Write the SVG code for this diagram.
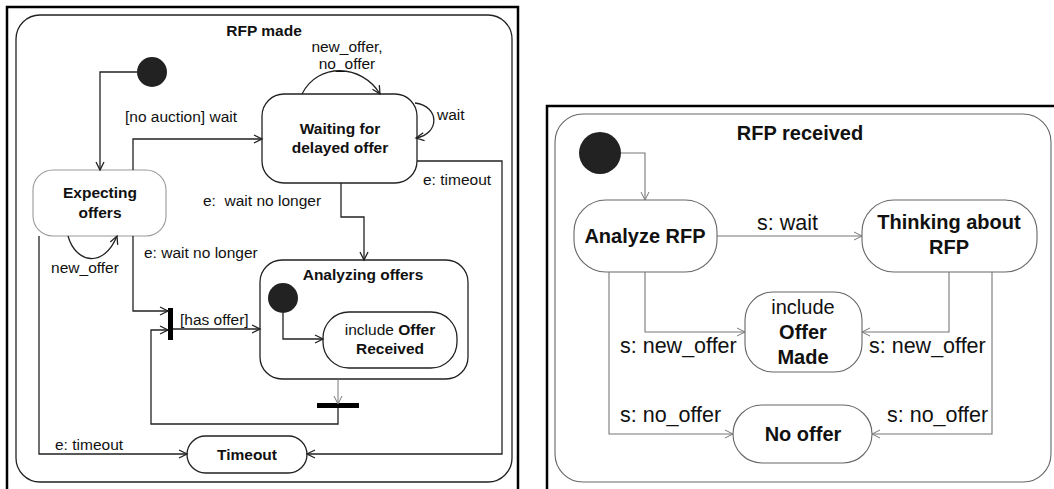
<svg xmlns="http://www.w3.org/2000/svg" width="1054" height="489" viewBox="0 0 1054 489">
<style>
text{font-family:"Liberation Sans",Arial,sans-serif;fill:#111}
.lbl{font-size:15.5px}
.nb{font-size:15.5px;font-weight:bold}
.rl{font-size:21.5px}
.ri{font-size:20px}
.rb{font-size:20px;font-weight:bold}
.ln{fill:none;stroke:#222;stroke-width:1.3}
.lg{fill:none;stroke:#777;stroke-width:1}
.rln{fill:none;stroke:#777;stroke-width:1.1}
.st{fill:#fff;stroke:#222;stroke-width:1.3}
.rst{fill:#fff;stroke:#666;stroke-width:1.1}
.frame{fill:none;stroke:#000;stroke-width:2.5}
</style>
<defs>
<marker id="a" markerUnits="userSpaceOnUse" markerWidth="12" markerHeight="12" refX="9" refY="5" orient="auto"><path d="M1,1 L9,5 L1,9" fill="none" stroke="#222" stroke-width="1.3"/></marker>
<marker id="ag" markerUnits="userSpaceOnUse" markerWidth="12" markerHeight="12" refX="9" refY="5" orient="auto"><path d="M1,1 L9,5 L1,9" fill="none" stroke="#777" stroke-width="1"/></marker>
</defs>
<rect width="1054" height="489" fill="#fff"/>
<!-- left frame -->
<path class="frame" d="M7,492 V7 H518 V492"/>
<g id="rfp-made">
<rect class="st" x="16" y="15" width="496" height="467" rx="24"/>
<text class="nb" x="264" y="36" text-anchor="middle">RFP made</text>
</g>
<!-- right frame -->
<path class="frame" d="M547,492 V106 H1060"/>
<g id="rfp-received">
<rect class="rst" x="555" y="114" width="496" height="368" rx="28"/>
<text class="rb" x="800" y="140" text-anchor="middle">RFP received</text>
</g>
<!-- left nodes -->
<g id="init1"><circle cx="152" cy="72" r="15" fill="#222"/></g>
<g id="expecting"><rect x="33" y="170" width="133" height="66" rx="20" fill="#fff" stroke="#999" stroke-width="1.1"/>
<text class="nb" x="100" y="198" text-anchor="middle">Expecting</text>
<text class="nb" x="100" y="218" text-anchor="middle">offers</text></g>
<g id="waiting"><rect class="st" x="262" y="94" width="155" height="89" rx="22"/>
<text class="nb" x="340" y="134" text-anchor="middle">Waiting for</text>
<text class="nb" x="340" y="153" text-anchor="middle">delayed offer</text></g>
<g id="analyzing"><rect class="st" x="260" y="260" width="208" height="119" rx="22"/>
<text class="nb" x="363" y="280" text-anchor="middle">Analyzing offers</text></g>
<g id="init2"><circle cx="283" cy="298" r="15" fill="#222"/></g>
<g id="offer-received"><rect class="st" x="323" y="312" width="134" height="56" rx="26"/>
<text class="lbl" x="390" y="335" text-anchor="middle">include <tspan font-weight="bold">Offer</tspan></text>
<text class="nb" x="390" y="354" text-anchor="middle">Received</text></g>
<g id="timeout"><rect class="st" x="187" y="436" width="120" height="37" rx="18.5"/>
<text class="nb" x="247" y="460" text-anchor="middle">Timeout</text></g>
<g id="fork"><rect x="168" y="308" width="5" height="32" fill="#000"/></g>
<g id="join"><rect x="317" y="403" width="42" height="5" fill="#000"/></g>
<!-- right nodes -->
<g id="init3"><circle cx="600" cy="153" r="21" fill="#222"/></g>
<g id="analyze-rfp"><rect class="rst" x="574" y="200" width="143" height="72" rx="32"/>
<text class="rb" x="645" y="243" text-anchor="middle">Analyze RFP</text></g>
<g id="thinking"><rect class="rst" x="862" y="200" width="175" height="72" rx="32"/>
<text class="rb" x="949" y="229" text-anchor="middle">Thinking about</text>
<text class="rb" x="949" y="254" text-anchor="middle">RFP</text></g>
<g id="offer-made"><rect class="rst" x="745" y="292" width="117" height="80" rx="28"/>
<text class="ri" x="803" y="314" text-anchor="middle">include</text>
<text class="rb" x="803" y="339" text-anchor="middle">Offer</text>
<text class="rb" x="803" y="364" text-anchor="middle">Made</text></g>
<g id="no-offer"><rect class="rst" x="733" y="405" width="139" height="58" rx="29"/>
<text class="rb" x="803" y="441" text-anchor="middle">No offer</text></g>
<!-- connectors -->
<g id="connectors">
<path class="ln" d="M137,72 H100 V170" marker-end="url(#a)"/>
<path class="ln" d="M133,170 V139 H262" marker-end="url(#a)"/>
<path class="ln" d="M302,94 C318,62 362,64 380,94" marker-end="url(#a)"/>
<path class="ln" d="M415,103 C440,106 440,134 416,138" marker-end="url(#a)"/>
<path class="ln" d="M417,161 H502 V454 H307" marker-end="url(#a)"/>
<path class="ln" d="M341,183 V217 H364 V260" marker-end="url(#a)"/>
<path class="ln" d="M68,236 C76,264 104,268 117,236" marker-end="url(#a)"/>
<path class="ln" d="M133,236 V311 H168" marker-end="url(#a)"/>
<path class="ln" d="M173,329 H260" marker-end="url(#a)"/>
<path class="ln" d="M283,313 V339 H323" marker-end="url(#a)"/>
<path class="lg" d="M338,379 V404" marker-end="url(#ag)"/>
<path class="ln" d="M338,408 V424 H151 V330 H168" marker-end="url(#a)"/>
<path class="ln" d="M39,236 V454 H187" marker-end="url(#a)"/>
<path class="rln" d="M621,153 H645 V200" marker-end="url(#ag)"/>
<path class="rln" d="M717,236 H862" marker-end="url(#ag)"/>
<path class="rln" d="M645,272 V332 H745" marker-end="url(#ag)"/>
<path class="rln" d="M609,272 V434 H733" marker-end="url(#ag)"/>
<path class="rln" d="M949,272 V332 H862" marker-end="url(#ag)"/>
<path class="rln" d="M992,272 V434 H872" marker-end="url(#ag)"/>
</g>
<!-- labels -->
<g id="labels">
<text class="lbl" x="125" y="122">[no auction] wait</text>
<text class="lbl" x="347" y="52" text-anchor="middle">new_offer,</text>
<text class="lbl" x="347" y="69" text-anchor="middle">no_offer</text>
<text class="lbl" x="437" y="120">wait</text>
<text class="lbl" x="423" y="185">e: timeout</text>
<text class="lbl" x="203" y="206" xml:space="preserve">e:  wait no longer</text>
<text class="lbl" x="144" y="258">e: wait no longer</text>
<text class="lbl" x="85" y="273" text-anchor="middle">new_offer</text>
<text class="lbl" x="180" y="325">[has offer]</text>
<text class="lbl" x="55" y="450">e: timeout</text>
<text class="rl" x="757" y="230">s: wait</text>
<text class="rl" x="620" y="353">s: new_offer</text>
<text class="rl" x="869" y="353">s: new_offer</text>
<text class="rl" x="620" y="422">s: no_offer</text>
<text class="rl" x="887" y="422">s: no_offer</text>
</g>
</svg>
